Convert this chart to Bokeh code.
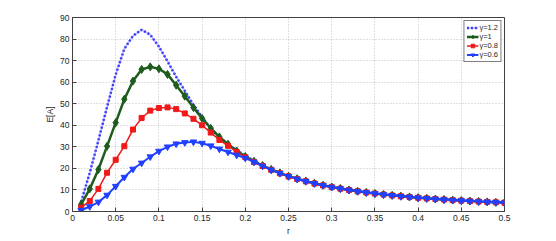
from bokeh.plotting import figure
from bokeh.embed import file_html
from bokeh.resources import INLINE
from bokeh.models import FixedTicker, Legend

r = [round(0.01 * i, 2) for i in range(1, 51)]

g12 = [4.5, 18, 33, 48.5, 63.5, 75.5, 81.5, 84.3, 82, 76.5, 69.7, 62.5, 56, 49.5, 43.8,
       38.5, 34.5, 31.2, 28.4, 25.9, 23.5, 21.4, 19.5, 17.9, 16.4, 15.2, 14.1, 13.1, 12.2, 11.4,
       10.7, 10.0, 9.4, 8.85, 8.35, 7.9, 7.5, 7.1, 6.75, 6.4, 6.1, 5.8, 5.55, 5.3, 5.05,
       4.85, 4.65, 4.45, 4.25, 4.1]
g10 = [3.3, 10.5, 19.5, 30.3, 41.2, 52.1, 60.5, 65.9, 67.1, 66.2, 63.6, 58.6, 53.5, 48.2, 43.2,
       38.6, 34.6, 31.2, 28.1, 25.5, 23.3, 21.3, 19.5, 17.9, 16.4, 15.2, 14.1, 13.1, 12.2, 11.4,
       10.7, 10.0, 9.4, 8.85, 8.35, 7.9, 7.5, 7.1, 6.75, 6.4, 6.1, 5.8, 5.55, 5.3, 5.05,
       4.85, 4.65, 4.45, 4.25, 4.1]
g08 = [1.8, 4.9, 10.5, 18, 24, 30.3, 38, 43.4, 46.8, 48, 48.3, 47.5, 45.5, 43, 40,
       36.6, 33.2, 30.5, 27.6, 25.2, 23.0, 21.1, 19.3, 17.7, 16.3, 15.1, 14.0, 13.0, 12.1, 11.3,
       10.6, 9.96, 9.37, 8.82, 8.33, 7.87, 7.45, 7.06, 6.71, 6.38, 6.07, 5.78, 5.52, 5.27, 5.04,
       4.82, 4.62, 4.43, 4.25, 4.08]
g06 = [0.6, 2.3, 4.4, 7.6, 11.7, 15.9, 19.7, 22.5, 25.4, 28, 30, 31.4, 32, 32.3, 31.7,
       30.5, 29.0, 27.6, 26.2, 24.8, 23.0, 21.1, 19.3, 17.7, 16.3, 15.1, 14.0, 13.0, 12.1, 11.3,
       10.6, 9.96, 9.37, 8.82, 8.33, 7.87, 7.45, 7.06, 6.71, 6.38, 6.07, 5.78, 5.52, 5.27, 5.04,
       4.82, 4.62, 4.43, 4.25, 4.08]

labels = ["γ=1.2", "γ=1", "γ=0.8", "γ=0.6"]
x_ticks = [0, 0.05, 0.1, 0.15, 0.2, 0.25, 0.3, 0.35, 0.4, 0.45, 0.5]
x_tick_labels = ["0", "0.05", "0.1", "0.15", "0.2", "0.25", "0.3", "0.35", "0.4", "0.45", "0.5"]
y_ticks = [0, 10, 20, 30, 40, 50, 60, 70, 80, 90]

FONT = "Liberation Sans"

p = figure(width=548, height=238, x_range=(0, 0.5), y_range=(0, 90),
           output_backend="svg", toolbar_location=None,
           min_border_left=72, min_border_right=44, min_border_top=17, min_border_bottom=24)
p.background_fill_color = "white"
p.border_fill_color = "white"
p.outline_line_color = "#404040"
p.outline_line_width = 1

for ax in (p.xaxis[0], p.yaxis[0]):
    ax.major_tick_in = 4
    ax.major_tick_out = 0
    ax.minor_tick_line_color = None
    ax.axis_line_color = "#404040"
    ax.major_tick_line_color = "#404040"
    ax.major_label_text_font = FONT
    ax.major_label_text_font_size = "8.5px"
    ax.major_label_text_color = "#262626"
    ax.axis_label_text_font = FONT
    ax.axis_label_text_font_size = "8.5px"
    ax.axis_label_text_font_style = "normal"
    ax.axis_label_text_color = "#262626"
    ax.major_label_standoff = 3
    ax.axis_label_standoff = 2

p.xaxis.ticker = FixedTicker(ticks=x_ticks)
p.xaxis.major_label_overrides = {t: l for t, l in zip(x_ticks, x_tick_labels)}
p.yaxis.ticker = FixedTicker(ticks=y_ticks)
p.xaxis.axis_label = "r"
p.yaxis.axis_label = "E[A]"

p.grid.grid_line_color = "#c0c0c0"
p.grid.grid_line_dash = "1 2"
p.grid.grid_line_width = 1

items = []
l1a = p.line(r, g12, line_color="#b4b4ff", line_width=1.5)
l1b = p.line(r, g12, line_color="#3c3cff", line_width=2.5, line_dash="2 2")
items.append((labels[0], [l1a, l1b]))

l2 = p.line(r, g10, line_color="#1d5c1d", line_width=2.5)
s2 = p.scatter(r, g10, marker="diamond", size=8, fill_color="#1d5c1d", line_color="#1d5c1d")
items.append((labels[1], [l2, s2]))

l3 = p.line(r, g08, line_color="#f01818", line_width=1.5)
s3 = p.scatter(r, g08, marker="square", size=5, fill_color="#f01818", line_color="#f01818")
items.append((labels[2], [l3, s3]))

l4 = p.line(r, g06, line_color="#2040ff", line_width=2)
s4 = p.scatter(r, g06, marker="inverted_triangle", size=6.5, fill_color="#2040ff", line_color="#2040ff")
items.append((labels[3], [l4, s4]))

legend = Legend(items=items, location="top_right")
legend.label_text_font = FONT
legend.label_text_font_size = "7.5px"
legend.label_text_color = "#262626"
legend.label_height = 9
legend.label_width = 10
legend.label_standoff = 1
legend.glyph_width = 12
legend.glyph_height = 9
legend.spacing = 0
legend.padding = 2
legend.margin = 3
legend.border_line_color = "black"
legend.border_line_width = 1
legend.background_fill_color = "white"
legend.background_fill_alpha = 1
p.add_layout(legend)

open("out.html", "w").write(file_html(p, INLINE))
